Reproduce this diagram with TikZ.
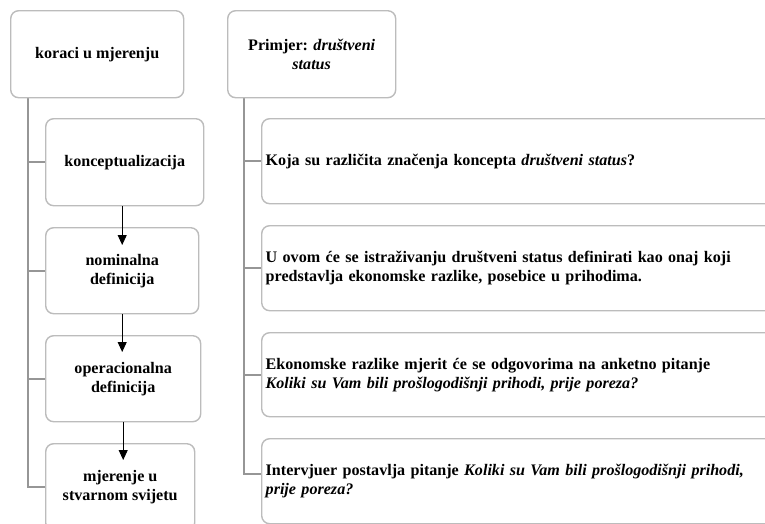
\documentclass[tikz,border=0pt]{standalone}
\usepackage{fontspec}
\setmainfont{Liberation Serif}
\usepackage{tikz}
\usetikzlibrary{arrows.meta}
\pgfdeclarelayer{bg}
\pgfsetlayers{bg,main}
\definecolor{boxgray}{RGB}{188,188,188}
\definecolor{linkgray}{RGB}{150,150,150}
\tikzset{box/.style={draw=boxgray, line width=1.4pt, fill=white, rounded corners=8pt,
        anchor=north west, inner sep=4pt, font=\fontsize{16.1}{19}\selectfont\bfseries},
    stepbox/.style={box, align=center, minimum height=87pt},
    infobox/.style={box, align=left, text width=552pt, minimum height=85pt},
    link/.style={draw=linkgray, line width=1.6pt},
    flow/.style={draw=black, line width=0.9pt, -{Triangle[length=10pt,width=9pt]}}}

\begin{document}
\begin{tikzpicture}[x=1pt, y=-1pt]
    \clip (0,0) rectangle (765,523);

    \node (koraci) at (10, 10) [stepbox, minimum width=173pt] {koraci u mjerenju};
    \node (konc) at (45, 118) [stepbox, minimum width=158pt] {konceptualizacija};
    \node (nomin) at (45, 227) [stepbox, minimum width=153pt, minimum height=86pt] {nominalna\\definicija};
    \node (oper) at (45, 335) [stepbox, minimum width=155pt, minimum height=86pt] {operacionalna\\definicija};
    \node (mjer) at (45, 443) [stepbox, minimum width=149pt] {mjerenje u\\stvarnom svijetu};

    \node (primjer) at (227, 10) [stepbox, minimum width=168pt] {Primjer: \textit{društveni}\\\textit{status}};
    \node (znacenja) at (261, 118) [infobox] {Koja su različita značenja koncepta \textit{društveni status}?};
    \node (nomdef) at (261, 225) [infobox] {U ovom će se istraživanju društveni status definirati kao onaj koji\\predstavlja ekonomske razlike, posebice u prihodima.};
    \node (opdef) at (261, 332) [infobox, minimum height=84pt] {Ekonomske razlike mjerit će se odgovorima na anketno pitanje\\\textit{Koliki su Vam bili prošlogodišnji prihodi, prije poreza?}};
    \node (pitanje) at (261, 438) [infobox] {Intervjuer postavlja pitanje \textit{Koliki su Vam bili prošlogodišnji prihodi,}\\\textit{prije poreza?}};

    \begin{pgfonlayer}{bg}
        \draw[link] ([xshift=18pt]koraci.south west) |- (konc.west);
        \draw[link] ([xshift=18pt]koraci.south west) |- (nomin.west);
        \draw[link] ([xshift=18pt]koraci.south west) |- (oper.west);
        \draw[link] ([xshift=18pt]koraci.south west) |- (mjer.west);
        \draw[link] ([xshift=17pt]primjer.south west) |- (znacenja.west);
        \draw[link] ([xshift=17pt]primjer.south west) |- (nomdef.west);
        \draw[link] ([xshift=17pt]primjer.south west) |- (opdef.west);
        \draw[link] ([xshift=17pt]primjer.south west) |- ([yshift=7pt]pitanje.west);
    \end{pgfonlayer}

    \draw[flow] (nomin.north |- konc.south) -- ([yshift=-18pt]nomin.north);
    \draw[flow] (nomin.south) -- ([yshift=-17pt]oper.north -| nomin.south);
    \draw[flow] (oper.south) -- ([yshift=-17pt]mjer.north -| oper.south);
\end{tikzpicture}
\end{document}
